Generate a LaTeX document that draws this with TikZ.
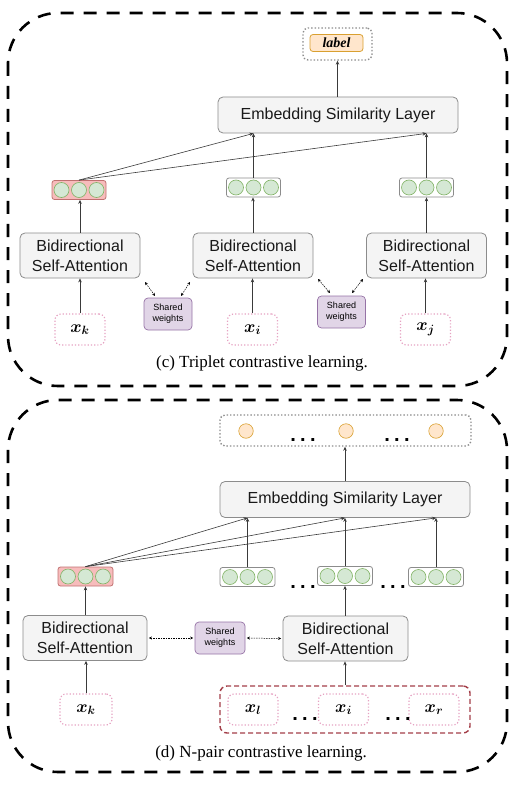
\documentclass[tikz,border=0pt]{standalone}
\usepackage{fontspec}
\setmainfont{Liberation Serif}
\setsansfont{Liberation Sans}
\usepackage{bm}
\usetikzlibrary{arrows.meta,calc}
\definecolor{boxfill}{HTML}{F4F4F4}
\definecolor{boxline}{HTML}{8C8C8C}
\definecolor{greenfill}{HTML}{D5E8D4}
\definecolor{greenline}{HTML}{82B366}
\definecolor{redfill}{HTML}{F7BCBC}
\definecolor{redline}{HTML}{C07070}
\definecolor{orangefill}{HTML}{FFE6CC}
\definecolor{orangeline}{HTML}{D9A030}
\definecolor{purplefill}{HTML}{E1D5E7}
\definecolor{purpleline}{HTML}{9673A6}
\definecolor{pinkline}{HTML}{E6A2C2}
\definecolor{darkred}{HTML}{A33E48}
\definecolor{arrowcol}{HTML}{3A3A3A}
\newcommand\mkvec[4]{%
  \node[vecbox,#4] (#1) at (#2,#3) {};
  \foreach \i/\dx in {1/-17.5,2/0,3/17.5}{
    \node[gcirc] (#1-\i) at ($(#1.center)+(\dx pt,0)$) {};
  }
}
\begin{document}
\begin{tikzpicture}[x=1pt,y=-1pt,
  frame/.style={draw=black, line width=2.6pt, dash pattern=on 13pt off 10pt, rounded corners=50pt},
  box/.style={draw=boxline, fill=boxfill, rounded corners=5pt, line width=0.8pt, align=center, inner sep=0,
    font=\sffamily\fontsize{16}{20}\selectfont, text=black!90},
  vecbox/.style={draw=boxline, fill=white, rounded corners=2.5pt, line width=0.8pt, minimum width=54pt, minimum height=19pt, inner sep=0},
  redvec/.style={draw=redline, fill=redfill},
  gcirc/.style={circle, draw=greenline, fill=greenfill, line width=0.6pt, minimum size=15pt, inner sep=0},
  ocirc/.style={circle, draw=orangeline, fill=orangefill, line width=0.6pt, minimum size=14.5pt, inner sep=0},
  inbox/.style={draw=pinkline, dotted, line width=1.2pt, rounded corners=6pt, fill=white, minimum width=50pt, minimum height=31pt, inner sep=0,
    font=\fontsize{17.28}{18}\selectfont},
  swbox/.style={draw=purpleline, fill=purplefill, rounded corners=4pt, line width=0.7pt, minimum width=48pt, minimum height=32pt,
    align=center, inner sep=0, font=\sffamily\fontsize{9}{11}\selectfont},
  graydot/.style={draw=gray!90, dotted, line width=1.4pt, rounded corners=5pt},
  arr/.style={draw=arrowcol, line width=0.6pt, -{Stealth[length=4pt,width=3.5pt]}},
  dbl/.style={draw=black, line width=0.5pt, dash pattern=on 1.5pt off 1pt,
    {Stealth[length=3pt,width=3pt]}-{Stealth[length=3pt,width=3pt]}},
  dots/.style={inner sep=0, anchor=south, font=\sffamily\bfseries\fontsize{20}{20}\selectfont},
  captext/.style={inner sep=0, font=\fontsize{17}{18}\selectfont}
]
\useasboundingbox (0,0) rectangle (516,786);

% ===== Top panel =====
\draw[frame] (8,13) rectangle (507,386);

\node[graydot, minimum width=69pt, minimum height=32pt] (lblout) at (337.5,44) {};
\node[draw=orangeline, fill=orangefill, rounded corners=3pt, line width=0.8pt, minimum width=53pt, minimum height=17pt, inner sep=0,
  font=\bfseries\itshape\fontsize{14}{14}\selectfont] (lbl) at (336.5,43) {label};

\node[box, minimum width=240pt, minimum height=36pt] (esl) at (338,115) {Embedding Similarity Layer};

\mkvec{rv}{79}{190}{redvec}
\mkvec{mv}{253.5}{187.5}{}
\mkvec{jv}{426.5}{187.5}{}

\node[box, minimum width=120pt, minimum height=45pt] (bk) at (80,255.5) {Bidirectional\\Self-Attention};
\node[box, minimum width=120pt, minimum height=45pt] (bi) at (253,255.5) {Bidirectional\\Self-Attention};
\node[box, minimum width=120pt, minimum height=45pt] (bj) at (426.5,255.5) {Bidirectional\\Self-Attention};

\node[swbox] (sw1) at (168,314) {Shared\\weights};
\node[swbox] (sw2) at (341.5,312) {Shared\\weights};

\node[inbox] (xk) at (80,329.5) {$\bm{x_k}$};
\node[inbox] (xi) at (252.5,329.5) {$\bm{x_i}$};
\node[inbox] (xj) at (425.5,329.5) {$\bm{x_j}$};

\node[captext] (capc) at (262,363) {(c) Triplet contrastive learning.};

\coordinate (e1) at (mv.north |- esl.south);
\coordinate (e2) at (jv.north |- esl.south);
\draw[arr] (esl.north -| lblout.south) -- (lblout.south);
\draw[arr] (rv.north) -- (e1);
\draw[arr] (rv.north) -- (e2);
\draw[arr] (mv.north) -- (e1);
\draw[arr] (jv.north) -- (e2);
\draw[arr] (bk.north) -- (bk.north |- rv.south);
\draw[arr] (bi.north) -- (bi.north |- mv.south);
\draw[arr] (bj.north) -- (bj.north |- jv.south);
\draw[arr] (xk.north) -- (xk.north |- bk.south);
\draw[arr] (xi.north) -- (xi.north |- bi.south);
\draw[arr] (xj.north) -- (xj.north |- bj.south);

\coordinate (s1a) at (145,282); \coordinate (s1b) at (155,296);
\coordinate (s1c) at (181,296); \coordinate (s1d) at (190,282);
\coordinate (s2a) at (318,279); \coordinate (s2b) at (330,293);
\coordinate (s2c) at (352,293); \coordinate (s2d) at (363,279);
\draw[dbl] (s1a) -- (s1b);
\draw[dbl] (s1c) -- (s1d);
\draw[dbl] (s2a) -- (s2b);
\draw[dbl] (s2c) -- (s2d);

% ===== Bottom panel =====
\draw[frame] (8,400) rectangle (507,772);

\node[graydot, minimum width=251pt, minimum height=31pt] (outbox) at (345.5,430.5) {};
\node[ocirc] (o1) at (246,431) {};
\node[ocirc] (o2) at (346,431) {};
\node[ocirc] (o3) at (436,431) {};
\node[dots] (od1) at (303,441.5) {.\kern4.4pt.\kern4.4pt.};
\node[dots] (od2) at (397,441.5) {.\kern4.4pt.\kern4.4pt.};

\node[box, minimum width=250pt, minimum height=36pt] (esl2) at (345,499.5) {Embedding Similarity Layer};

\mkvec{rv2}{85.5}{576.5}{redvec, minimum width=55pt}
\mkvec{v2}{247.5}{577}{minimum width=55pt}
\mkvec{v3}{345}{576}{minimum width=55pt}
\mkvec{v4}{436}{577}{minimum width=55pt}
\node[dots] (vd1) at (303,588.5) {.\kern4.4pt.\kern4.4pt.};
\node[dots] (vd2) at (393,588.5) {.\kern4.4pt.\kern4.4pt.};

\node[box, minimum width=124pt, minimum height=45pt] (bL) at (85,638) {Bidirectional\\Self-Attention};
\node[box, minimum width=125pt, minimum height=45pt] (bR) at (345.5,638.5) {Bidirectional\\Self-Attention};
\node[swbox, minimum width=50pt] (swb) at (220,638) {Shared\\weights};

\node[inbox, minimum width=52pt] (xk2) at (86,709.5) {$\bm{x_k}$};
\node[draw=darkred, dash pattern=on 5pt off 3pt, line width=1.4pt, rounded corners=7pt, minimum width=250pt, minimum height=47pt, inner sep=0] (grp) at (345,709.5) {};
\node[inbox] (xl) at (253,709.5) {$\bm{x_l}$};
\node[inbox] (xi2) at (343.5,709.5) {$\bm{x_i}$};
\node[inbox] (xr) at (434,709.5) {$\bm{x_r}$};
\node[dots] (id1) at (305,721) {.\kern4.4pt.\kern4.4pt.};
\node[dots] (id2) at (398,721) {.\kern4.4pt.\kern4.4pt.};

\node[captext] (capd) at (261,753) {(d) N-pair contrastive learning.};

\coordinate (f1) at (v2.north |- esl2.south);
\coordinate (f2) at (v3.north |- esl2.south);
\coordinate (f3) at (v4.north |- esl2.south);
\draw[arr] (esl2.north) -- (esl2.north |- outbox.south);
\draw[arr] (rv2.north) -- (f1);
\draw[arr] (rv2.north) -- (f2);
\draw[arr] (rv2.north) -- (f3);
\draw[arr] (v2.north) -- (f1);
\draw[arr] (v3.north) -- (f2);
\draw[arr] (v4.north) -- (f3);
\draw[arr] (bL.north -| rv2.south) -- (rv2.south);
\draw[arr] (bR.north -| v3.south) -- (v3.south);
\draw[arr] (xk2.north) -- (xk2.north |- bL.south);
\draw[arr] (grp.north) -- (grp.north |- bR.south);
\draw[dbl, shorten <=1.5pt, shorten >=1.5pt] (bL.east) -- (swb.west);
\draw[dbl, shorten <=1.5pt, shorten >=1.5pt] (swb.east) -- (bR.west);
\end{tikzpicture}
\end{document}
